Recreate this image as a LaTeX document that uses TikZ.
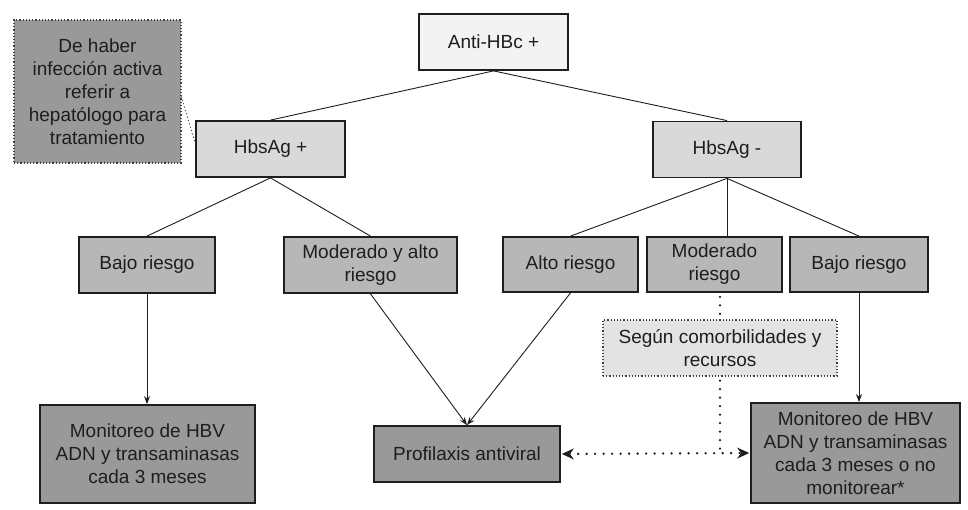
\documentclass[tikz,border=0pt]{standalone}
\usepackage{fontspec}
\setmainfont{Liberation Sans}
\usetikzlibrary{arrows.meta}
\definecolor{c1}{HTML}{F3F3F3}
\definecolor{c2}{HTML}{D9D9D9}
\definecolor{c3}{HTML}{B7B7B7}
\definecolor{c4}{HTML}{999999}
\definecolor{c5}{HTML}{E3E3E3}
\definecolor{ink}{HTML}{1E1E1E}
\tikzset{
  box/.style={draw=ink, line width=1.8pt, align=center, inner sep=2pt,
    font=\fontsize{19pt}{23pt}\selectfont, text=ink},
  dbox/.style={draw=ink!85, dotted, line width=1.2pt, align=center, inner sep=2pt,
    font=\fontsize{19pt}{23pt}\selectfont, text=ink},
  conn/.style={draw=ink, line width=0.9pt},
  arr/.style={conn, -{Stealth[length=8pt,width=6pt]}},
  dconn/.style={draw=ink, line width=2.6pt, line cap=round, dash pattern=on 0pt off 8.5pt},
  dtip/.tip={Stealth[length=12pt,width=11pt,inset=4pt,line width=0.8pt]},
}
\begin{document}
\begin{tikzpicture}[x=1pt,y=-1pt]
\useasboundingbox[fill=white] (0,0) rectangle (968,510);
\node[box, fill=c1, minimum width=149pt, minimum height=56pt] (anti) at (493.5,42) {Anti-HBc +};
\node[box, fill=c2, minimum width=149pt, minimum height=56pt] (hbp) at (270.5,149) {HbsAg +};
\node[box, fill=c2, minimum width=148pt, minimum height=56pt] (hbm) at (727,149.5) {HbsAg -};
\node[dbox, fill=c4, minimum width=167pt, minimum height=143pt] (note) at (97.5,91.5) {De haber\\infección activa\\referir a\\hepatólogo para\\tratamiento};
\node[box, fill=c3, minimum width=136pt, minimum height=56pt] (bl) at (147,265) {Bajo riesgo};
\node[box, fill=c3, minimum width=173pt, minimum height=56pt] (mal) at (370.5,265) {Moderado y alto\\riesgo};
\node[box, fill=c3, minimum width=135pt, minimum height=55pt] (ar) at (570.5,264.5) {Alto riesgo};
\node[box, fill=c3, minimum width=135pt, minimum height=55pt] (mr) at (714.5,264.5) {Moderado\\riesgo};
\node[box, fill=c3, minimum width=138pt, minimum height=55pt] (br) at (859,264.5) {Bajo riesgo};
\node[dbox, fill=c5, minimum width=234pt, minimum height=56pt] (seg) at (720,348) {Según comorbilidades y\\recursos};
\node[box, fill=c4, minimum width=215pt, minimum height=98pt] (monl) at (147.5,454) {Monitoreo de HBV\\ADN y transaminasas\\cada 3 meses};
\node[box, fill=c4, minimum width=186pt, minimum height=56pt] (prof) at (467,454) {Profilaxis antiviral};
\node[box, fill=c4, minimum width=209pt, minimum height=100pt] (monr) at (855.5,453) {Monitoreo de HBV\\ADN y transaminasas\\cada 3 meses o no\\monitorear*};
\coordinate (j) at (seg.south |- prof.east);
% tree lines
\draw[conn] (anti.south) -- (hbp.north);
\draw[conn] (anti.south) -- (hbm.north);
\draw[conn] (hbp.south) -- (bl.north);
\draw[conn] (hbp.south) -- (mal.north);
\draw[conn] (hbm.south) -- (ar.north);
\draw[conn] (hbm.south) -- (hbm.south |- mr.north);
\draw[conn] (hbm.south) -- (br.north);
% arrows
\draw[arr] (bl.south) -- (bl.south |- monl.north);
\draw[arr] (mal.south) -- (prof.north);
\draw[arr] (ar.south) -- (prof.north);
\draw[arr] (br.south) -- (br.south |- monr.north);
% dotted
\draw[draw=ink!85, line width=1.4pt, line cap=round, dash pattern=on 0pt off 3.5pt] (note.east) ++(0,5.5) coordinate (ne) (ne) -- ([yshift=6pt]hbp.west);
\draw[dconn, shorten <=4pt] (seg.north |- mr.south) -- (seg.north);
\draw[dconn, shorten <=4pt] (seg.south) -- (j);
\draw[dconn, dtip-dtip, shorten <=1pt, shorten >=1pt] (prof.east) -- (monr.west);
\end{tikzpicture}
\end{document}
